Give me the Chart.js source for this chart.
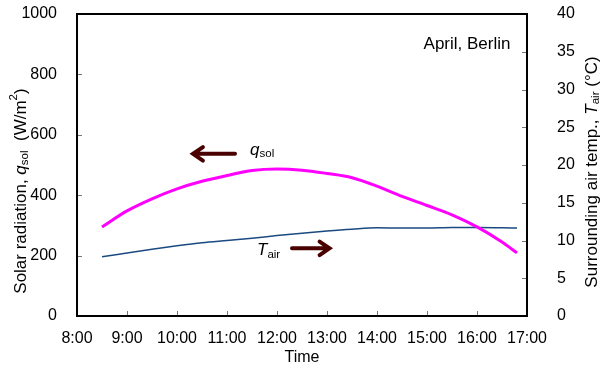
<!DOCTYPE html>
<html>
<head>
<meta charset="utf-8">
<script src="https://cdn.jsdelivr.net/npm/chart.js@4"></script>
<style>
  html, body { margin: 0; padding: 0; background: #fff; }
  #wrap { width: 600px; height: 371px; }
</style>
</head>
<body>
<div id="wrap"><canvas id="chart"></canvas></div>
<script>
// hours of the day (decimal)
const hours = [8.5, 9, 9.5, 10, 10.5, 11, 11.5, 12, 12.5, 13, 13.5, 14, 14.5, 15, 15.5, 16, 16.5, 16.8];
// solar radiation q_sol, W/m2
const qSol = [295, 348, 388, 421, 446, 465, 482, 487, 483, 472, 458, 430, 396, 366, 335, 295, 245, 209];
// surrounding air temperature T_air, degC
const tAir = [7.85, 8.35, 8.85, 9.3, 9.7, 10.0, 10.3, 10.65, 10.95, 11.25, 11.5, 11.68, 11.65, 11.65, 11.72, 11.72, 11.68, 11.65];
const xTicks = [8, 9, 10, 11, 12, 13, 14, 15, 16, 17];

const FONT = "'Liberation Sans', Arial, sans-serif";
const ARROW = '#4a0000';

// draws a row of text pieces (normal / italic / subscript / superscript)
function drawRich(c, parts, size, align) {
  let w = 0;
  const fontOf = p => (p.italic ? 'italic ' : '') + (p.sub || p.sup ? size * 0.68 : size) + 'px ' + FONT;
  parts.forEach(p => { c.font = fontOf(p); w += c.measureText(p.t).width; });
  let x = align === 'left' ? 0 : -w / 2;
  parts.forEach(p => {
    c.font = fontOf(p);
    const dy = p.sub ? size * 0.25 : (p.sup ? -size * 0.4 : 0);
    c.fillText(p.t, x, dy);
    x += c.measureText(p.t).width;
  });
}

function arrow(c, x1, y1, x2, y2) {
  const a = Math.atan2(y2 - y1, x2 - x1);
  c.save();
  c.strokeStyle = ARROW;
  c.lineWidth = 4;
  c.lineCap = 'round';
  c.beginPath();
  c.moveTo(x1, y1);
  c.lineTo(x2, y2);
  c.moveTo(x2 - 12 * Math.cos(a - 0.6), y2 - 12 * Math.sin(a - 0.6));
  c.lineTo(x2, y2);
  c.lineTo(x2 - 12 * Math.cos(a + 0.6), y2 - 12 * Math.sin(a + 0.6));
  c.stroke();
  c.restore();
}

const decor = {
  id: 'decor',
  afterDraw(chart) {
    const c = chart.ctx;
    const a = chart.chartArea;
    const sx = chart.scales.x, sy = chart.scales.y, sy2 = chart.scales.y2;
    c.save();
    // inward ticks
    c.strokeStyle = '#777';
    c.lineWidth = 1;
    c.beginPath();
    xTicks.forEach(v => { const px = Math.round(sx.getPixelForValue(v)) + 0.5; c.moveTo(px, a.bottom); c.lineTo(px, a.bottom - 5); });
    for (let v = 0; v <= 1000; v += 200) { const py = Math.round(sy.getPixelForValue(v)) + 0.5; c.moveTo(a.left, py); c.lineTo(a.left + 5, py); }
    for (let v = 0; v <= 40; v += 5) { const py = Math.round(sy2.getPixelForValue(v)) + 0.5; c.moveTo(a.right, py); c.lineTo(a.right - 5, py); }
    c.stroke();
    // frame
    c.strokeStyle = '#000';
    c.lineWidth = 2;
    c.strokeRect(a.left, a.top, a.right - a.left, a.bottom - a.top);

    c.fillStyle = '#000';
    c.textBaseline = 'middle';
    c.font = '17px ' + FONT;
    c.textAlign = 'center';
    c.fillText('April, Berlin', a.right - 60, a.top + 30);
    c.textAlign = 'left';

    // q_sol label and arrow
    c.save();
    c.translate(sx.getPixelForValue(11.46), sy.getPixelForValue(550));
    drawRich(c, [{ t: 'q', italic: true }, { t: 'sol', sub: true }], 17, 'left');
    c.restore();
    arrow(c, sx.getPixelForValue(11.16), sy.getPixelForValue(537), sx.getPixelForValue(10.32), sy.getPixelForValue(537));

    // T_air label and arrow
    c.save();
    c.translate(sx.getPixelForValue(11.6), sy.getPixelForValue(218));
    drawRich(c, [{ t: 'T', italic: true }, { t: 'air', sub: true }], 17, 'left');
    c.restore();
    arrow(c, sx.getPixelForValue(12.3), sy.getPixelForValue(224), sx.getPixelForValue(13.05), sy.getPixelForValue(224));

    // axis titles
    c.save();
    c.translate(21, 191);
    c.rotate(-Math.PI / 2);
    drawRich(c, [{ t: 'Solar radiation, ' }, { t: 'q', italic: true }, { t: 'sol', sub: true }, { t: '  (W/m' }, { t: '2', sup: true }, { t: ')' }], 17);
    c.restore();

    c.save();
    c.translate(592, 172);
    c.rotate(-Math.PI / 2);
    drawRich(c, [{ t: 'Surrounding air temp., ' }, { t: 'T', italic: true }, { t: 'air', sub: true }, { t: ' (\u00B0C)' }], 17);
    c.restore();

    c.font = '16px ' + FONT;
    c.textAlign = 'center';
    c.fillText('Time', (a.left + a.right) / 2, 358);
    c.restore();
  }
};

function noPad(s) { s.paddingTop = 0; s.paddingBottom = 0; s.paddingLeft = 0; s.paddingRight = 0; }

new Chart(document.getElementById('chart'), {
  type: 'line',
  data: {
    datasets: [
      {
        label: 'q_sol',
        data: hours.map((h, i) => ({ x: h, y: qSol[i] })),
        borderColor: '#ff00ff',
        borderWidth: 3,
        pointRadius: 0,
        cubicInterpolationMode: 'monotone',
        yAxisID: 'y'
      },
      {
        label: 'T_air',
        data: hours.map((h, i) => ({ x: h, y: tAir[i] })),
        borderColor: '#1a4a80',
        borderWidth: 1.5,
        pointRadius: 0,
        cubicInterpolationMode: 'monotone',
        yAxisID: 'y2'
      }
    ]
  },
  plugins: [decor],
  options: {
    responsive: true,
    maintainAspectRatio: false,
    animation: false,
    layout: { padding: { top: 14, left: 0, right: 0, bottom: 0 } },
    plugins: { legend: { display: false }, tooltip: { enabled: false } },
    scales: {
      x: {
        type: 'linear',
        min: 8, max: 17,
        afterFit(s) { s.height = 55; noPad(s); },
        afterBuildTicks(s) { s.ticks = xTicks.map(v => ({ value: v })); },
        grid: { display: false, drawTicks: false },
        border: { display: false },
        ticks: {
          padding: 13,
          color: '#000',
          font: { family: FONT, size: 16 },
          maxRotation: 0,
          callback: v => v + ':00'
        }
      },
      y: {
        position: 'left',
        min: 0, max: 1000,
        afterFit(s) { s.width = 77; noPad(s); },
        grid: { display: false, drawTicks: false },
        border: { display: false },
        ticks: { stepSize: 200, padding: 20, color: '#000', font: { family: FONT, size: 16 }, callback: v => String(v) }
      },
      y2: {
        position: 'right',
        min: 0, max: 40,
        afterFit(s) { s.width = 73; noPad(s); },
        grid: { display: false, drawTicks: false },
        border: { display: false },
        ticks: { stepSize: 5, padding: 30, color: '#000', font: { family: FONT, size: 16 } }
      }
    }
  }
});
</script>
</body>
</html>
